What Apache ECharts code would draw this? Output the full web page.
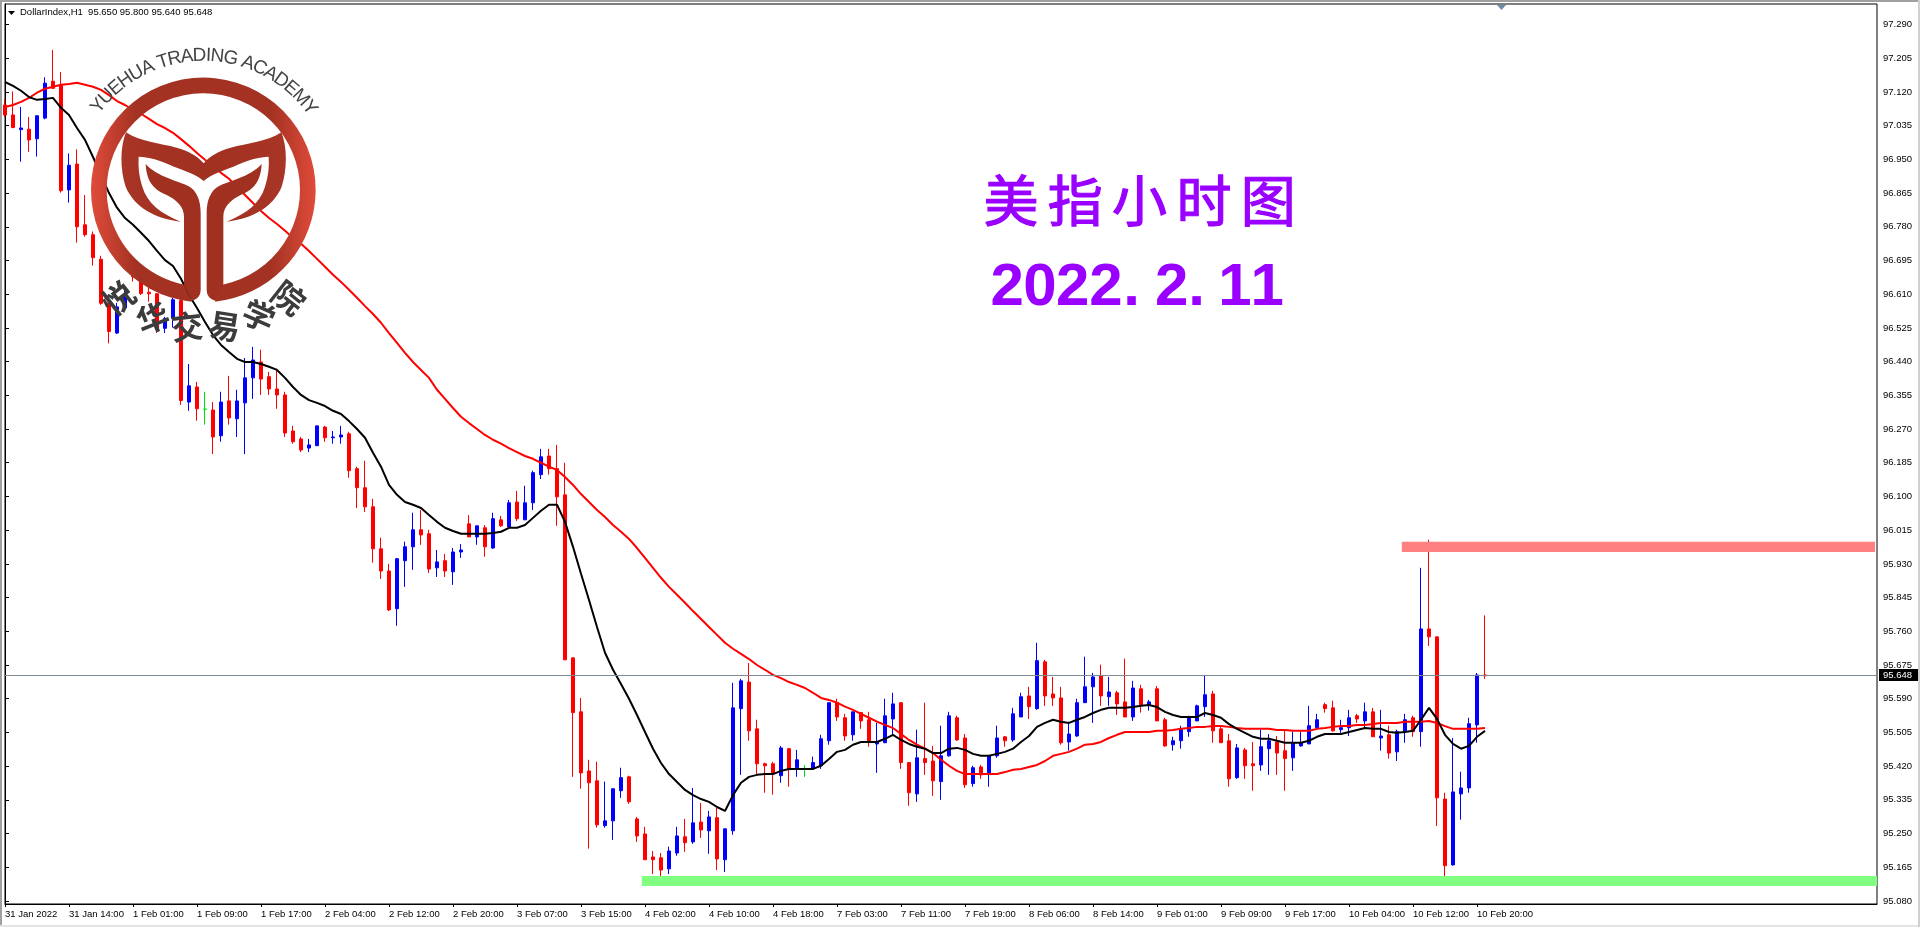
<!DOCTYPE html>
<html><head><meta charset="utf-8">
<style>html,body{margin:0;padding:0;background:#fff}#c{width:1920px;height:927px}</style>
<script src="https://cdn.jsdelivr.net/npm/echarts@6/dist/echarts.min.js"></script>
</head><body><div id="c"></div>
<script>
const xTickLabels=['31 Jan 2022','31 Jan 14:00','1 Feb 01:00','1 Feb 09:00','1 Feb 17:00','2 Feb 04:00','2 Feb 12:00','2 Feb 20:00','3 Feb 07:00','3 Feb 15:00','4 Feb 02:00','4 Feb 10:00','4 Feb 18:00','7 Feb 03:00','7 Feb 11:00','7 Feb 19:00','8 Feb 06:00','8 Feb 14:00','9 Feb 01:00','9 Feb 09:00','9 Feb 17:00','10 Feb 04:00','10 Feb 12:00','10 Feb 20:00'];
const yTicks=[95.080,95.165,95.250,95.335,95.420,95.505,95.590,95.675,95.760,95.845,95.930,96.015,96.100,96.185,96.270,96.355,96.440,96.525,96.610,96.695,96.780,96.865,96.950,97.035,97.120,97.205,97.290];
const lastPrice=95.648;
const redBand=[174.6,233.75,95.986,95.960];
const greenBand=[79.6,234,95.143,95.118];
const opens=[97.087,97.062,97.025,97.026,97.002,97.054,97.147,97.137,96.873,96.938,
96.785,96.760,96.698,96.588,96.512,96.575,96.676,96.644,96.615,96.611,
96.524,96.549,96.594,96.338,96.376,96.320,96.318,96.253,96.341,96.296,
96.336,96.399,96.439,96.402,96.371,96.356,96.265,96.245,96.222,96.228,
96.275,96.248,96.250,96.258,96.170,96.122,96.074,95.968,95.912,95.817,
95.938,95.973,96.016,96.006,95.920,95.938,95.910,95.960,96.031,95.998,
96.021,95.970,96.041,96.023,96.086,96.041,96.084,96.155,96.202,96.170,
96.104,95.693,95.557,95.408,95.383,95.270,95.282,95.358,95.393,95.287,
95.249,95.191,95.189,95.161,95.201,95.242,95.229,95.279,95.257,95.290,
95.184,95.257,95.565,95.632,95.514,95.426,95.426,95.396,95.464,95.416,
95.413,95.413,95.421,95.484,95.580,95.542,95.499,95.555,95.537,95.476,
95.479,95.539,95.580,95.429,95.350,95.439,95.433,95.381,95.446,95.542,
95.491,95.376,95.418,95.403,95.446,95.494,95.486,95.544,95.597,95.565,
95.683,95.602,95.592,95.481,95.496,95.580,95.620,95.648,95.595,95.605,
95.582,95.544,95.615,95.575,95.615,95.537,95.474,95.484,95.507,95.534,
95.570,95.602,95.514,95.484,95.391,95.461,95.426,95.423,95.464,95.481,
95.459,95.441,95.471,95.476,95.517,95.575,95.567,95.512,95.517,95.547,
95.534,95.557,95.491,95.499,95.456,95.507,95.542,95.507,95.766,95.746,
95.337,95.171,95.350,95.365,95.524,95.650];
const closes=[97.062,97.030,97.029,96.999,97.060,97.142,97.129,96.871,96.935,96.780,
96.760,96.702,96.587,96.516,96.578,96.606,96.654,96.612,96.611,96.524,
96.549,96.596,96.342,96.379,96.321,96.320,96.250,96.338,96.298,96.341,
96.399,96.444,96.396,96.371,96.356,96.260,96.238,96.217,96.230,96.278,
96.248,96.250,96.255,96.165,96.122,96.074,95.968,95.912,95.814,95.943,
95.973,96.016,96.003,95.917,95.935,95.912,95.960,95.965,95.998,96.026,
95.973,96.044,96.026,96.084,96.044,96.084,96.160,96.200,96.170,96.099,
95.688,95.555,95.403,95.378,95.272,95.282,95.363,95.391,95.330,95.244,
95.184,95.184,95.158,95.206,95.244,95.227,95.277,95.259,95.292,95.186,
95.262,95.567,95.635,95.509,95.426,95.421,95.401,95.466,95.411,95.436,
95.413,95.429,95.489,95.580,95.544,95.496,95.557,95.534,95.481,95.481,
95.547,95.577,95.429,95.353,95.441,95.429,95.383,95.446,95.547,95.486,
95.373,95.416,95.398,95.446,95.491,95.484,95.552,95.595,95.570,95.686,
95.597,95.592,95.479,95.501,95.580,95.620,95.645,95.597,95.607,95.577,
95.544,95.617,95.575,95.582,95.534,95.471,95.484,95.512,95.544,95.572,
95.600,95.509,95.479,95.388,95.466,95.421,95.421,95.469,95.484,95.453,
95.439,95.479,95.479,95.522,95.537,95.565,95.509,95.517,95.542,95.539,
95.557,95.494,95.496,95.453,95.507,95.537,95.507,95.766,95.746,95.340,
95.169,95.355,95.365,95.527,95.650,95.648];
const highs=[97.102,97.121,97.082,97.057,97.060,97.157,97.226,97.170,96.965,96.975,
96.860,96.768,96.707,96.596,96.588,96.629,96.691,96.651,96.631,96.613,
96.553,96.601,96.596,96.434,96.389,96.364,96.338,96.364,96.404,96.369,
96.449,96.477,96.470,96.414,96.422,96.364,96.278,96.250,96.245,96.278,
96.278,96.265,96.278,96.263,96.175,96.190,96.094,95.996,95.930,95.945,
95.986,96.059,96.066,96.016,95.965,95.955,95.970,95.980,96.053,96.026,
96.028,96.059,96.051,96.091,96.114,96.127,96.165,96.220,96.220,96.230,
96.185,95.693,95.592,95.436,95.431,95.381,95.363,95.416,95.396,95.292,
95.267,95.206,95.201,95.217,95.267,95.287,95.365,95.327,95.307,95.315,
95.262,95.630,95.640,95.680,95.537,95.429,95.431,95.471,95.466,95.461,
95.423,95.444,95.499,95.580,95.590,95.552,95.557,95.557,95.557,95.529,
95.590,95.605,95.580,95.429,95.512,95.580,95.471,95.522,95.557,95.547,
95.501,95.421,95.423,95.446,95.522,95.496,95.567,95.605,95.620,95.731,
95.688,95.645,95.620,95.532,95.590,95.696,95.655,95.676,95.645,95.610,
95.691,95.635,95.625,95.587,95.622,95.542,95.494,95.522,95.547,95.575,
95.650,95.610,95.522,95.501,95.476,95.466,95.481,95.512,95.501,95.496,
95.512,95.507,95.507,95.572,95.552,95.580,95.585,95.537,95.562,95.552,
95.580,95.567,95.562,95.522,95.512,95.552,95.547,95.920,95.991,95.746,
95.353,95.491,95.406,95.542,95.655,95.800];
const lows=[97.057,97.029,96.944,96.969,96.957,97.051,97.129,96.866,96.841,96.740,
96.755,96.682,96.583,96.486,96.510,96.570,96.642,96.608,96.591,96.512,
96.512,96.526,96.331,96.316,96.291,96.281,96.207,96.238,96.281,96.250,
96.207,96.346,96.356,96.356,96.321,96.250,96.233,96.212,96.212,96.228,
96.238,96.233,96.233,96.147,96.071,96.061,95.933,95.892,95.811,95.774,
95.872,95.915,95.978,95.907,95.897,95.897,95.877,95.945,95.998,95.978,
95.948,95.968,96.023,96.023,96.038,96.041,96.066,96.144,96.155,96.026,
95.688,95.393,95.363,95.212,95.265,95.265,95.234,95.340,95.325,95.229,
95.184,95.148,95.123,95.148,95.194,95.204,95.224,95.239,95.199,95.158,
95.153,95.247,95.398,95.484,95.398,95.353,95.348,95.378,95.368,95.393,
95.393,95.411,95.413,95.474,95.534,95.484,95.484,95.514,95.469,95.403,
95.479,95.499,95.413,95.320,95.330,95.398,95.345,95.335,95.444,95.484,
95.365,95.368,95.388,95.368,95.441,95.469,95.481,95.544,95.539,95.562,
95.572,95.572,95.474,95.459,95.494,95.580,95.529,95.572,95.572,95.549,
95.544,95.534,95.555,95.560,95.534,95.469,95.459,95.464,95.494,95.534,
95.544,95.479,95.479,95.368,95.388,95.388,95.358,95.408,95.398,95.398,
95.358,95.408,95.469,95.476,95.514,95.555,95.507,95.504,95.496,95.529,
95.517,95.494,95.459,95.439,95.433,95.479,95.494,95.469,95.723,95.269,
95.143,95.169,95.285,95.353,95.479,95.640];
const blackMA=[97.145,97.135,97.123,97.107,97.100,97.102,97.105,97.080,97.062,97.029,
96.999,96.956,96.911,96.865,96.828,96.802,96.785,96.765,96.744,96.719,
96.696,96.681,96.649,96.608,96.575,96.540,96.507,96.482,96.464,96.447,
96.439,96.439,96.434,96.427,96.419,96.399,96.376,96.356,96.343,96.336,
96.328,96.316,96.308,96.290,96.270,96.248,96.210,96.175,96.129,96.104,
96.086,96.079,96.071,96.053,96.036,96.021,96.013,96.006,96.006,96.006,
96.006,96.008,96.011,96.021,96.021,96.028,96.046,96.064,96.079,96.079,
96.036,95.973,95.905,95.839,95.771,95.706,95.663,95.627,95.590,95.549,
95.506,95.464,95.428,95.400,95.380,95.360,95.347,95.337,95.330,95.317,
95.307,95.347,95.378,95.393,95.398,95.400,95.400,95.408,95.413,95.413,
95.413,95.413,95.421,95.438,95.456,95.461,95.474,95.481,95.481,95.481,
95.489,95.499,95.486,95.476,95.469,95.464,95.453,95.453,95.464,95.466,
95.461,95.451,95.446,95.446,95.451,95.456,95.464,95.481,95.496,95.519,
95.529,95.537,95.532,95.529,95.537,95.544,95.554,95.562,95.567,95.567,
95.567,95.569,95.572,95.574,95.569,95.557,95.549,95.544,95.544,95.544,
95.554,95.549,95.542,95.526,95.514,95.504,95.494,95.489,95.489,95.484,
95.479,95.479,95.479,95.484,95.494,95.501,95.501,95.501,95.506,95.511,
95.516,95.514,95.514,95.506,95.504,95.506,95.509,95.537,95.567,95.539,
95.499,95.476,95.464,95.471,95.494,95.509];
const redMA=[97.082,97.087,97.095,97.105,97.118,97.128,97.133,97.138,97.140,97.143,
97.138,97.133,97.125,97.112,97.097,97.087,97.075,97.065,97.052,97.039,
97.029,97.017,97.001,96.984,96.966,96.949,96.933,96.916,96.901,96.880,
96.860,96.840,96.820,96.802,96.787,96.770,96.752,96.737,96.719,96.699,
96.679,96.659,96.641,96.621,96.601,96.580,96.560,96.538,96.512,96.487,
96.462,96.439,96.419,96.399,96.369,96.346,96.323,96.301,96.285,96.270,
96.255,96.243,96.233,96.222,96.212,96.202,96.195,96.185,96.175,96.167,
96.149,96.129,96.106,96.086,96.066,96.048,96.028,96.011,95.993,95.970,
95.945,95.920,95.895,95.872,95.852,95.832,95.811,95.791,95.771,95.751,
95.731,95.716,95.703,95.690,95.675,95.663,95.650,95.642,95.632,95.625,
95.617,95.605,95.592,95.587,95.580,95.570,95.562,95.552,95.542,95.532,
95.524,95.516,95.501,95.486,95.474,95.464,95.453,95.436,95.421,95.408,
95.400,95.400,95.400,95.400,95.400,95.405,95.411,95.413,95.418,95.423,
95.433,95.446,95.451,95.456,95.464,95.474,95.476,95.481,95.491,95.499,
95.506,95.506,95.506,95.506,95.509,95.509,95.511,95.514,95.516,95.519,
95.519,95.521,95.521,95.519,95.516,95.514,95.514,95.514,95.514,95.511,
95.511,95.509,95.509,95.509,95.514,95.516,95.519,95.521,95.521,95.524,
95.524,95.526,95.529,95.529,95.529,95.532,95.532,95.532,95.534,95.529,
95.521,95.514,95.514,95.514,95.514,95.516];
const logoEn='YUEHUA TRADING ACADEMY';
const logoCn=['悦','华','交','易','学','院'];
const logoCnAngles=[-38,-21.5,-6.8,8.8,23.7,38.2];
const titleCn=['美','指','小','时','图'];
const titleDateChars=['2','0','2','2','.','2','.','1','1'];
const titleDateCentres=[1007.3,1040,1072.7,1106,1131.7,1171.7,1196.7,1235,1267.3];
const headerText='DollarIndex,H1  95.650 95.800 95.640 95.648';

const SLOTS=235;
const categories=Array.from({length:SLOTS},(_,i)=>i%8===0&&xTickLabels[i/8]?xTickLabels[i/8]:'');
const candles=opens.map((o,i)=>[o,closes[i],lows[i],highs[i]]);
const UI='"Liberation Sans",Arial,sans-serif';

const logoCx=203.3,logoCy=189.5;
const metal={type:'linear',x:0,y:0,x2:1,y2:0,colorStops:[{offset:0,color:'#e04b3a'},{offset:.2,color:'#a33222'},{offset:.8,color:'#a33222'},{offset:1,color:'#e04b3a'}]};
const metal2={type:'linear',x:0,y:0,x2:1,y2:0,colorStops:[{offset:0,color:'#a83525'},{offset:.5,color:'#a03020'},{offset:1,color:'#a83525'}]};
const paths=[
 ['M 575 905 A 337 337 0 1 1 645 905 L 668 854 A 290 290 0 1 0 552 854 Z',metal],
 ['M 378 397 C 420 425 480 430 530 443 C 565 452 595 470 611 490 C 627 470 657 452 692 443 C 742 430 802 425 844 397 C 862 440 862 510 845 560 C 820 620 760 655 680 665 C 740 640 780 610 795 560 C 805 530 808 500 806 470 C 780 470 740 480 700 500 C 660 515 630 525 611 543 C 592 525 562 515 522 500 C 482 480 442 470 416 470 C 414 500 417 530 427 560 C 442 610 482 640 542 665 C 462 655 402 620 377 560 C 360 510 360 440 378 397 Z',metal2],
 ['M 437 492 C 470 530 540 545 565 558 C 590 572 602 600 602 640 L 602 870 Q 602 895 575 903 L 552 854 L 552 650 C 552 620 530 600 500 585 C 465 570 440 550 437 492 Z','#a03020'],
 ['M 785 492 C 752 530 682 545 657 558 C 632 572 620 600 620 640 L 620 870 Q 620 895 647 903 L 670 854 L 670 650 C 670 620 692 600 722 585 C 757 570 782 550 785 492 Z','#a03020']
];
const g=[];
g.push({type:'rect',shape:{x:0,y:0,width:2,height:927},style:{fill:'#a0a0a0'},z:90});
g.push({type:'rect',shape:{x:0,y:0,width:1920,height:2},style:{fill:'#a0a0a0'},z:90});
g.push({type:'rect',shape:{x:0,y:925,width:1920,height:2},style:{fill:'#e4e4e4'},z:90});
g.push({type:'rect',shape:{x:1918,y:0,width:2,height:927},style:{fill:'#d0d0d0'},z:90});
g.push({type:'polygon',shape:{points:[[8,11],[15,11],[11.5,15]]},style:{fill:'#000'},z:95});
g.push({type:'polygon',shape:{points:[[1497,5],[1506,5],[1501.5,10]]},style:{fill:'#6f8ba8'},z:95});
g.push({type:'text',x:20,y:12.5,style:{text:headerText,font:'9.5px '+UI,fill:'#000',align:'left',verticalAlign:'middle'},z:95});
const ctx=document.createElement('canvas').getContext('2d');
const enFont='19px '+UI;ctx.font=enFont;
const enR=134,enStart=-54,enEnd=55;
const enTotal=ctx.measureText(logoEn).width;
let run=0;
for(const ch of logoEn){
  const w=ctx.measureText(ch).width;
  const a=(enStart+(run+w/2)/enTotal*(enEnd-enStart))*Math.PI/180;run+=w;
  g.push({type:'text',x:logoCx+enR*Math.sin(a),y:logoCy-enR*Math.cos(a),rotation:-a,style:{text:ch,font:enFont,fill:'#444',align:'center',verticalAlign:'middle'},z:101});
}
logoCn.forEach((ch,i)=>{
  const a=logoCnAngles[i]*Math.PI/180,R=138;
  g.push({type:'text',x:logoCx+R*Math.sin(a),y:logoCy+R*Math.cos(a),rotation:-a,style:{text:ch,font:'bold 32px "Noto Sans CJK SC"',fill:'#3c3c3c',align:'center',verticalAlign:'middle'},z:101});
});
titleCn.forEach((ch,i)=>{
  g.push({type:'text',x:1011+64.3*i,y:200,style:{text:ch,font:'55px "Noto Sans CJK SC"',fill:'#9900ff',stroke:'#9900ff',lineWidth:1.2,align:'center',verticalAlign:'middle'},z:96});
});
titleDateChars.forEach((ch,i)=>{
  g.push({type:'text',x:titleDateCentres[i],y:288,style:{text:ch,font:'bold 60px '+UI,fill:'#9900ff',align:'center',verticalAlign:'middle'},z:96});
});

const band=(params,api)=>{
  const a=api.coord([api.value(0),api.value(2)]),b=api.coord([api.value(1),api.value(3)]);
  return {type:'rect',shape:{x:a[0],y:a[1],width:b[0]-a[0],height:b[1]-a[1]},style:{fill:api.value(4)===1?'#ff8080':'#80ff80',blend:'multiply'}};
};
const logoShape=()=>({type:'group',x:0,y:0,scaleX:1/3,scaleY:1/3,children:paths.map(p=>({type:'path',shape:{pathData:p[0]},style:{fill:p[1]}}))});
const hasLabel=(i,v)=>v!=='';
const chart=echarts.init(document.getElementById('c'),null,{renderer:'canvas'});
chart.setOption({
  animation:false,backgroundColor:'#fff',
  grid:{left:5,top:4,right:43,bottom:23,show:true,borderColor:'#000',borderWidth:1,backgroundColor:'#fff'},
  xAxis:[{type:'category',data:categories,boundaryGap:false,
    axisLine:{show:true,lineStyle:{color:'#000',width:1}},
    axisTick:{show:true,interval:hasLabel,length:3,alignWithLabel:true,lineStyle:{color:'#000'}},
    axisLabel:{show:true,interval:hasLabel,align:'left',margin:5,color:'#000',fontFamily:UI,fontSize:9.5,hideOverlap:false,showMinLabel:true,showMaxLabel:true},
    splitLine:{show:false}},
    {type:'value',min:0,max:234,show:false,position:'top'}],
  yAxis:{type:'value',position:'right',min:95.0724,max:97.3417,scale:true,
    axisLine:{show:true,lineStyle:{color:'#000',width:1}},
    axisTick:{show:true,length:4,customValues:yTicks,lineStyle:{color:'#000'}},
    axisLabel:{show:true,customValues:yTicks,margin:6,color:'#000',fontFamily:UI,fontSize:9.5,formatter:v=>v.toFixed(3)},
    splitLine:{show:false}},
  graphic:{elements:g},
  series:[
    {type:'candlestick',data:candles,barWidth:4,z:2,
      itemStyle:{color:'#0000ff',color0:'#ff0000',borderColor:'#0000ff',borderColor0:'#ff0000',borderColorDoji:'#00e000',borderWidth:1},
      markLine:{silent:true,symbol:'none',animation:false,data:[{yAxis:lastPrice}],
        lineStyle:{color:'#808a94',width:1,type:'solid'},
        label:{show:true,position:'end',distance:2,formatter:()=>lastPrice.toFixed(3),color:'#fff',backgroundColor:'#000',padding:[1,6,1,4],fontFamily:UI,fontSize:9.5}}},
    {type:'line',data:redMA,showSymbol:false,symbol:'none',smooth:false,z:3,lineStyle:{color:'#ff0000',width:2}},
    {type:'line',data:blackMA,showSymbol:false,symbol:'none',smooth:false,z:4,lineStyle:{color:'#000',width:2}},
    {type:'custom',xAxisIndex:1,yAxisIndex:0,z:5,silent:true,clip:true,renderItem:band,
      data:[[...redBand,1],[...greenBand,0]]},
    {type:'custom',coordinateSystem:'none',z:100,silent:true,renderItem:logoShape,data:[0]}
  ]
});
</script></body></html>
